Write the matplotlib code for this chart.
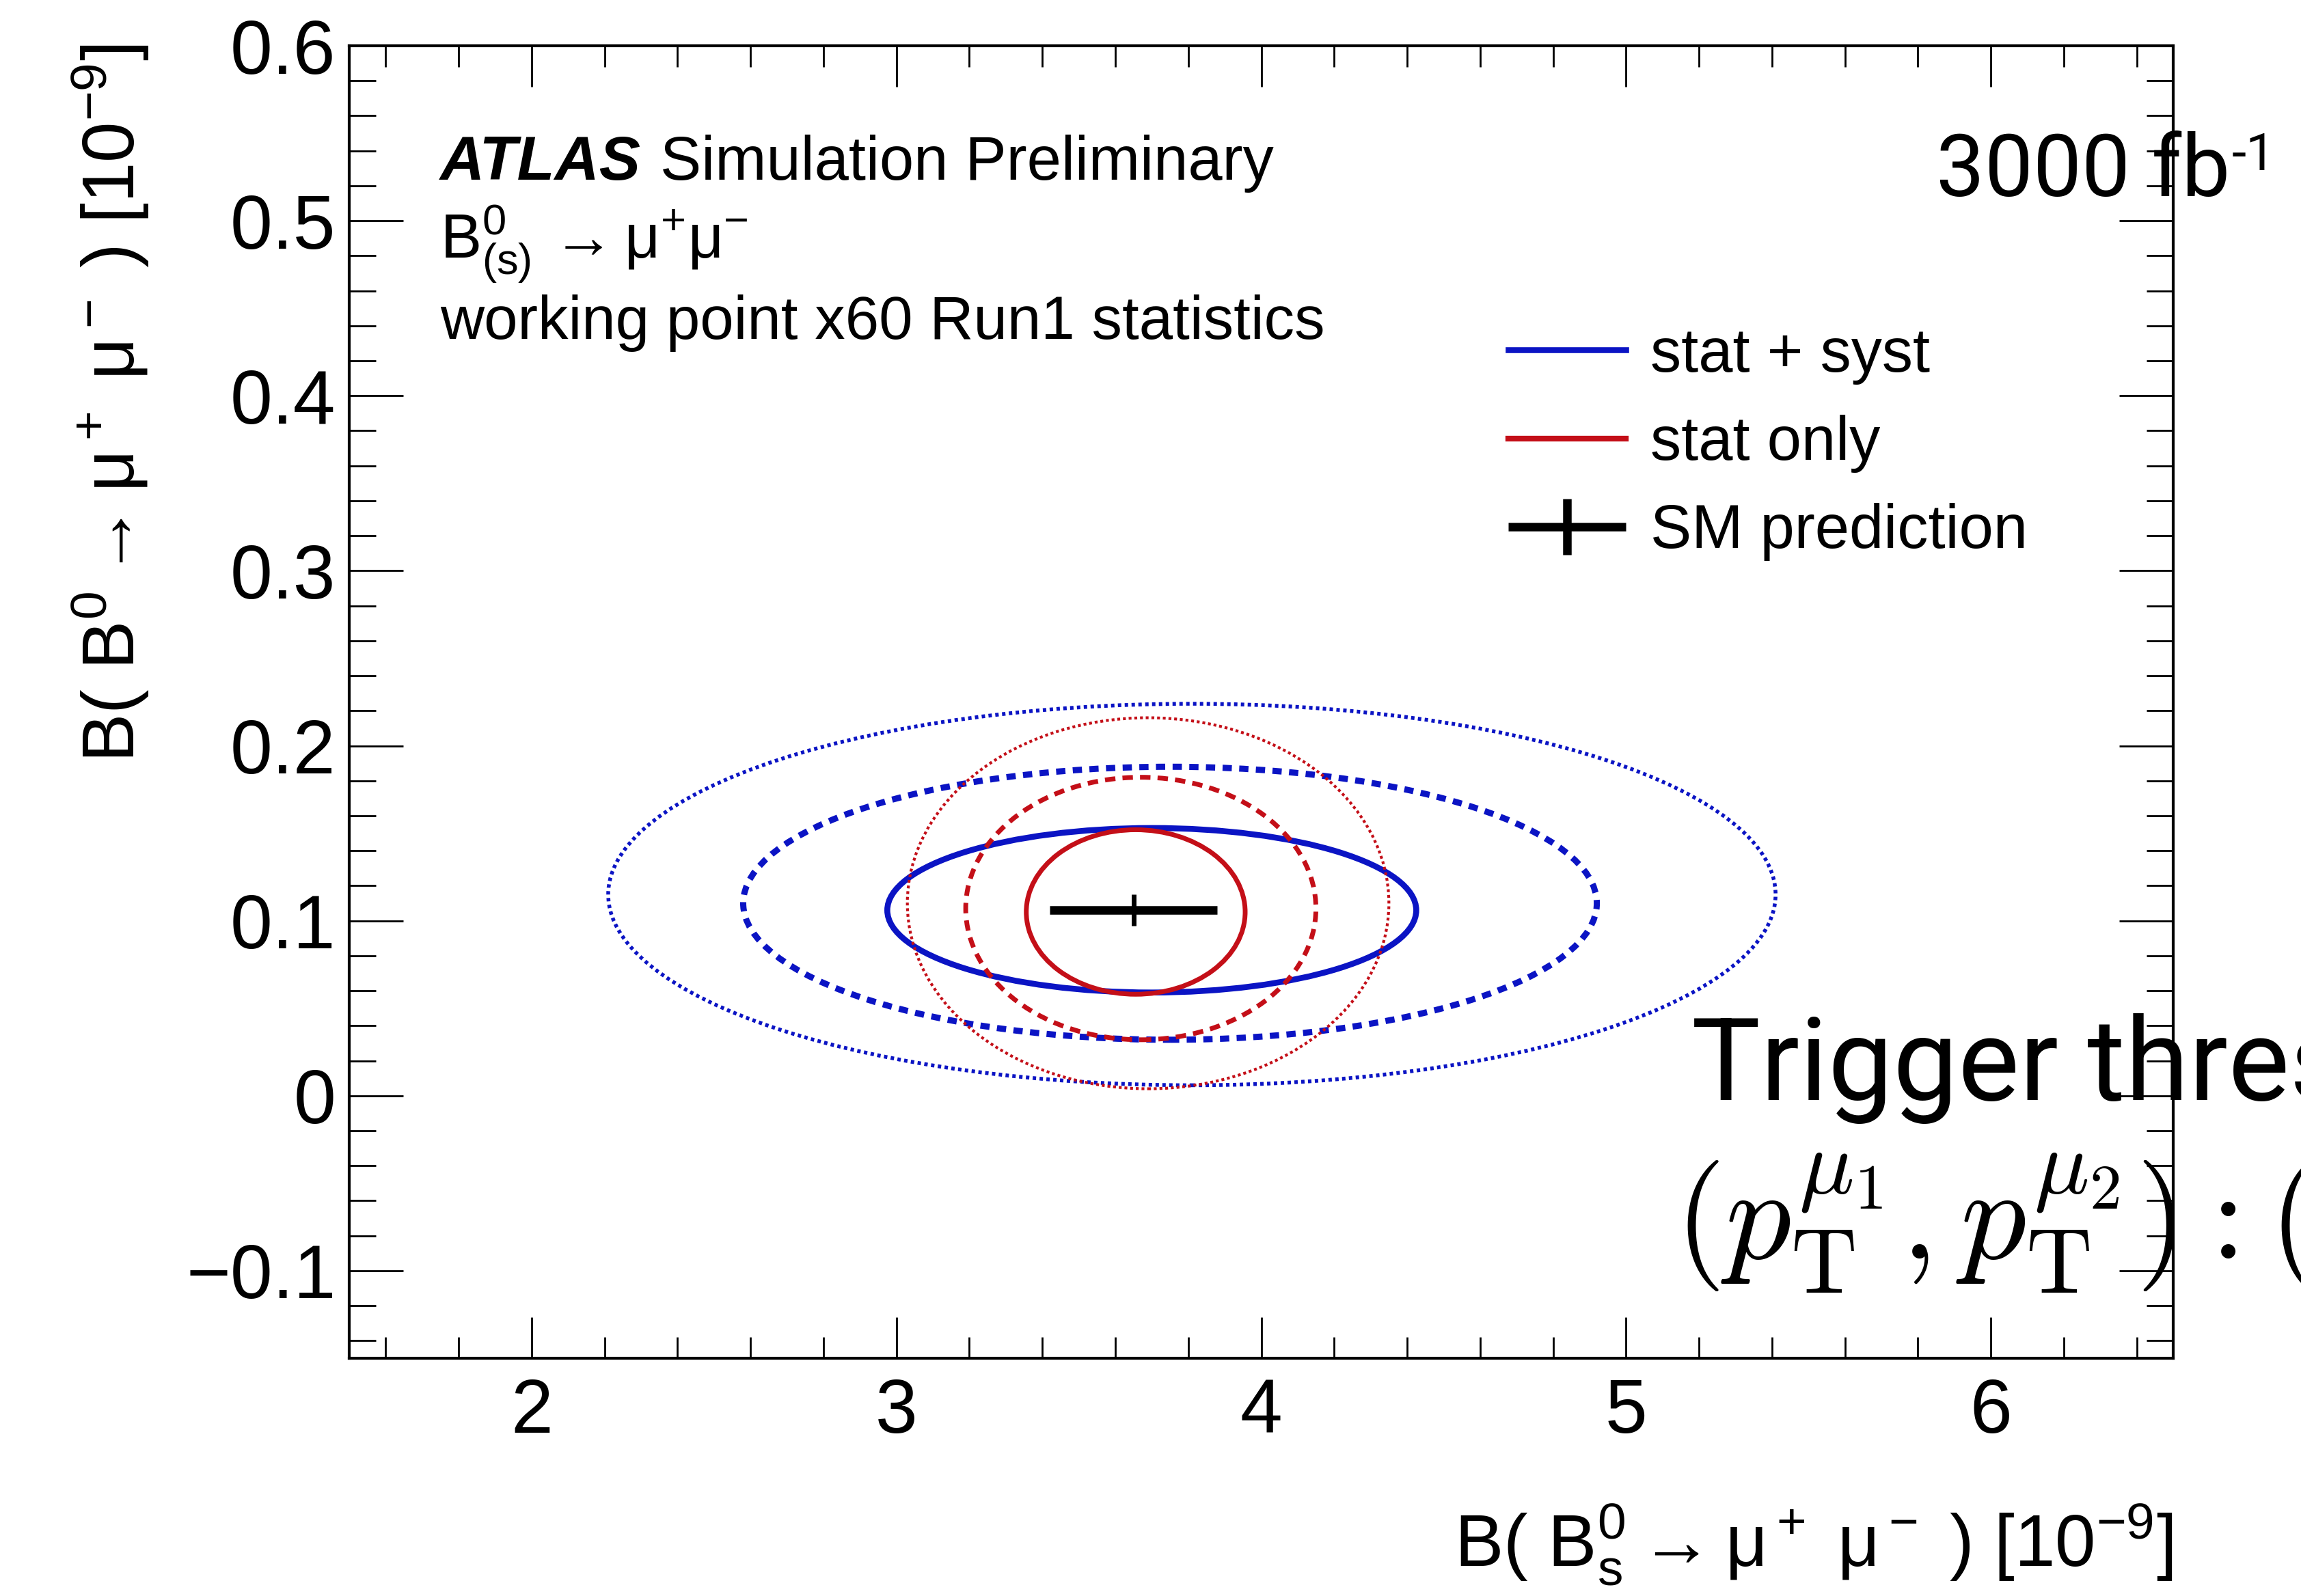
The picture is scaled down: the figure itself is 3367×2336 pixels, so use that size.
import numpy as np
import matplotlib
matplotlib.use('Agg')
import matplotlib.pyplot as plt
from matplotlib.patches import Ellipse
from matplotlib.lines import Line2D
from matplotlib.legend_handler import HandlerErrorbar

plt.rcParams['font.family'] = ['Liberation Sans', 'DejaVu Sans']
plt.rcParams['mathtext.fontset'] = 'custom'
plt.rcParams['mathtext.rm'] = 'Liberation Sans'
plt.rcParams['mathtext.it'] = 'Liberation Sans:italic'
plt.rcParams['mathtext.bf'] = 'Liberation Sans:bold'

# --- contour levels (1, 2, 3 sigma): centre and half-axes ---
level_styles = ['solid', 'dashed', 'dotted']
blue_cx = [3.70, 3.75, 3.81]
blue_cy = [0.106, 0.110, 0.115]
blue_rx = [0.725, 1.17, 1.60]
blue_ry = [0.047, 0.078, 0.109]

red_cx = [3.656, 3.67, 3.69]
red_cy = [0.105, 0.107, 0.110]
red_rx = [0.30, 0.48, 0.66]
red_ry = [0.047, 0.075, 0.106]

# SM prediction
sm_x = [3.65]
sm_y = [0.106]
sm_xerr = [0.23]
sm_yerr = [0.009]

xticks = [2, 3, 4, 5, 6]
xtick_labels = ['2', '3', '4', '5', '6']
yticks = [-0.1, 0.0, 0.1, 0.2, 0.3, 0.4, 0.5, 0.6]
ytick_labels = ['\u22120.1', '0', '0.1', '0.2', '0.3', '0.4', '0.5', '0.6']
legend_labels = ['stat + syst', 'stat only', 'SM prediction']

BLUE = '#0b14c4'
RED = '#c40f18'

W, H = 3367, 2336
fig = plt.figure(figsize=(W / 100, H / 100), dpi=100)
ax = fig.add_axes([511 / W, 1 - 1988 / H, (3180 - 511) / W, (1988 - 67) / H])

# ellipses
blue_lw = [6.2, 6.5, 4.0]
red_lw = [5.0, 5.0, 3.0]
blue_ls = ['solid', (0, (1.5, 1.2)), (0, (0.9, 0.9))]
red_ls = ['solid', (0, (2.2, 1.5)), (0, (1.0, 1.0))]
for i in range(3):
    ax.add_patch(Ellipse((blue_cx[i], blue_cy[i]), 2 * blue_rx[i], 2 * blue_ry[i],
                         fill=False, edgecolor=BLUE, lw=blue_lw[i], ls=blue_ls[i], zorder=2))
    ax.add_patch(Ellipse((red_cx[i], red_cy[i]), 2 * red_rx[i], 2 * red_ry[i],
                         fill=False, edgecolor=RED, lw=red_lw[i], ls=red_ls[i], zorder=2))

sm = ax.errorbar(sm_x, sm_y, xerr=sm_xerr, yerr=sm_yerr, fmt='none',
                 ecolor='black', capsize=0, zorder=3)
sm.lines[2][0].set_linewidth(9)
sm.lines[2][1].set_linewidth(5)

ax.set_xlim(1.5, 6.5)
ax.set_ylim(-0.15, 0.6)
ax.set_xticks(xticks)
ax.set_xticklabels(xtick_labels)
ax.set_yticks(yticks)
ax.set_yticklabels(ytick_labels)
ax.xaxis.set_minor_locator(matplotlib.ticker.MultipleLocator(0.2))
ax.yaxis.set_minor_locator(matplotlib.ticker.MultipleLocator(0.02))
ax.tick_params(which='both', direction='in', top=True, right=True, width=2)
ax.tick_params(axis='x', which='major', length=43, labelsize=80, pad=20)
ax.tick_params(axis='x', which='minor', length=22)
ax.tick_params(axis='y', which='major', length=57, labelsize=80, pad=14)
ax.tick_params(axis='y', which='minor', length=28)
for s in ax.spines.values():
    s.set_linewidth(3)

# axis titles
fig.text(3180 / W, 1 - 2293 / H,
         r'$\mathrm{B(\ B^0_s \rightarrow μ^+\ μ^-\ )\ [10^{-9}]}$',
         fontsize=77, ha='right', va='baseline')
fig.text(197 / W, 1 - 64 / H,
         r'$\mathrm{B(\ B^0 \rightarrow μ^+\ μ^-\ )\ [10^{-9}]}$',
         fontsize=77, rotation=90, rotation_mode='anchor', ha='right', va='baseline')

# ATLAS label
t_atlas = fig.text(644 / W, 1 - 263 / H, 'ATLAS', fontsize=65,
                   fontweight='bold', fontstyle='italic', va='baseline')
ax.annotate('Simulation Preliminary', xy=(1, 0), xycoords=t_atlas,
            xytext=(20, 0), textcoords='offset points', fontsize=65,
            va='bottom', ha='left')
fig.text(644 / W, 1 - 377 / H, r'$\mathrm{B^0_{(s)}\,\rightarrow μ^{+}μ^{-}}$',
         fontsize=65, va='baseline')
fig.text(644 / W, 1 - 496 / H, 'working point x60 Run1 statistics',
         fontsize=64, va='baseline')

# legend
h_blue = Line2D([], [], color=BLUE, lw=6.2)
h_red = Line2D([], [], color=RED, lw=6.0)
ax.legend([h_blue, h_red, sm], legend_labels, loc='upper left',
          bbox_to_anchor=(2207 / W, 1 - 478 / H), bbox_transform=fig.transFigure,
          frameon=False, fontsize=65, handlelength=1.9, handletextpad=0.4,
          labelspacing=0.49, borderpad=0, borderaxespad=0,
          handler_map={sm: HandlerErrorbar(xerr_size=0.95, yerr_size=0.45)})

# overlaid slide text
t_lumi = fig.text(2833 / W, 1 - 287 / H, '3000 fb', fontsize=91,
                  family='Roboto', va='baseline')
ax.annotate('-1', xy=(1, 1), xycoords=t_lumi, xytext=(2, 0),
            textcoords='offset points', fontsize=55, family='Roboto',
            va='top', ha='left')
fig.text(2475 / W, 1 - 1610 / H, 'Trigger thresholds', fontsize=122,
         family='Roboto', va='baseline')
fig.text(2450 / W, 1 - 1844 / H,
         r'$(p_{\mathrm{T}}^{\mu_1}, p_{\mathrm{T}}^{\mu_2}) : ($',
         fontsize=138, math_fontfamily='cm', va='baseline')

fig.savefig('out.png', dpi=100)
